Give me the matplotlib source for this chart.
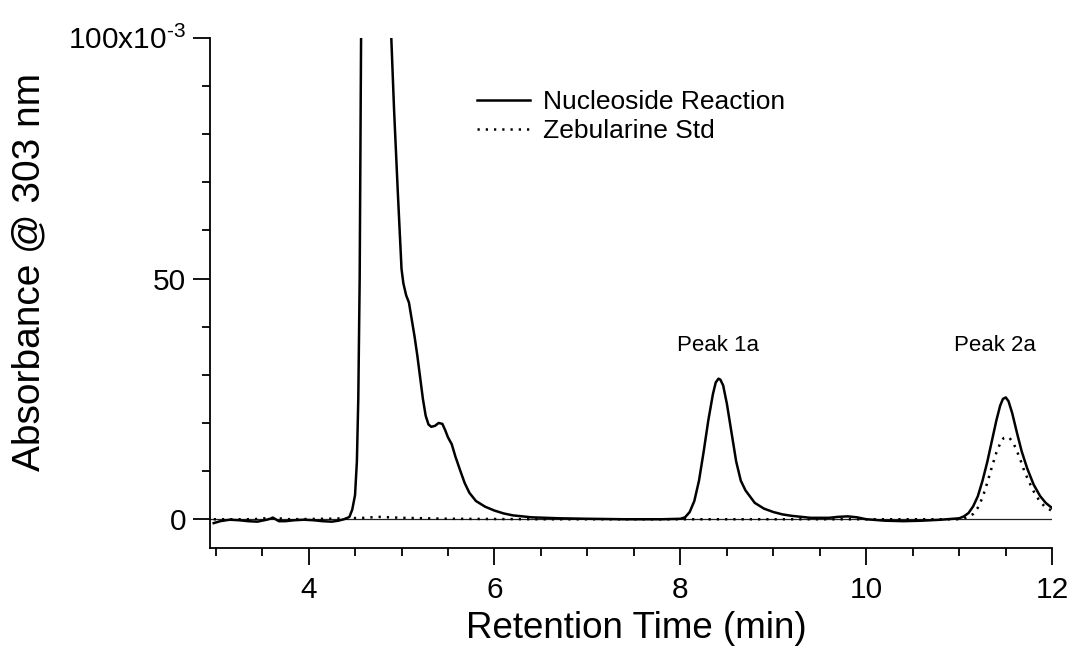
import matplotlib
matplotlib.use('Agg')
import matplotlib.pyplot as plt
from matplotlib.ticker import MultipleLocator, FixedLocator

plt.rcParams['font.family'] = ['Liberation Sans', 'DejaVu Sans']
plt.rcParams['mathtext.fontset'] = 'custom'
plt.rcParams['mathtext.rm'] = 'Liberation Sans'
plt.rcParams['mathtext.it'] = 'Liberation Sans:italic'

# Nucleoside Reaction trace (time in min, absorbance in 1e-3 units)
reaction_t = [2.98, 3.05, 3.15, 3.25, 3.35, 3.45, 3.55, 3.62, 3.68, 3.75, 3.85, 3.95,
              4.05, 4.15, 4.25, 4.32, 4.38, 4.42, 4.44, 4.47, 4.50, 4.52, 4.535, 4.55,
              4.565, 4.60, 4.65, 4.72, 4.80, 4.85, 4.88, 4.89, 4.92, 4.96, 5.00, 5.02,
              5.05, 5.08, 5.11, 5.14, 5.17, 5.20, 5.23, 5.26, 5.29, 5.32, 5.36, 5.40,
              5.44, 5.47, 5.50, 5.54, 5.58, 5.63, 5.68, 5.73, 5.80, 5.90, 6.00, 6.10,
              6.20, 6.40, 6.70, 7.00, 7.40, 7.80, 8.00, 8.05, 8.10, 8.15, 8.20, 8.25,
              8.30, 8.35, 8.38, 8.41, 8.43, 8.46, 8.50, 8.55, 8.60, 8.65, 8.70, 8.80, 8.90,
              9.00, 9.10, 9.20, 9.40, 9.60, 9.70, 9.80, 9.90, 10.00, 10.20, 10.40,
              10.60, 10.80, 11.00, 11.05, 11.10, 11.15, 11.20, 11.25, 11.30, 11.35,
              11.40, 11.44, 11.47, 11.50, 11.53, 11.57, 11.62, 11.67, 11.73, 11.80, 11.87,
              11.93, 12.00]
reaction_v = [-0.8, -0.4, -0.1, -0.2, -0.4, -0.5, -0.1, 0.3, -0.4, -0.4, -0.2, -0.1,
              -0.2, -0.4, -0.5, -0.3, 0.0, 0.3, 0.5, 2.0, 5.0, 12.0, 25.0, 50.0,
              100.0, 170.0, 260.0, 320.0, 260.0, 180.0, 115.0, 100.0, 85.0, 68.0, 52.0, 49.0,
              46.5, 45.0, 41.5, 38.0, 34.0, 29.5, 25.0, 21.5, 19.7, 19.2, 19.4, 20.0,
              19.8, 18.5, 17.0, 15.6, 13.0, 10.2, 7.5, 5.5, 3.8, 2.6, 1.8, 1.2,
              0.8, 0.4, 0.2, 0.1, 0.0, 0.0, 0.1, 0.4, 1.5, 3.8, 8.0, 14.0,
              20.5, 26.0, 28.4, 29.2, 29.0, 27.8, 24.0, 18.0, 12.0, 8.0, 6.0, 3.4, 2.2,
              1.5, 1.0, 0.7, 0.3, 0.3, 0.5, 0.6, 0.4, 0.0, -0.3, -0.4,
              -0.3, -0.1, 0.2, 0.6, 1.3, 2.7, 4.8, 8.0, 11.8, 16.2,
              20.6, 23.6, 25.0, 25.3, 24.5, 22.0, 18.0, 14.2, 10.6, 7.2, 4.8,
              3.4, 2.3]

# Zebularine standard trace
std_t = [2.98, 3.40, 3.60, 3.80, 4.20, 4.60, 4.75, 5.00, 5.50, 6.50, 8.00, 9.50,
         10.50, 11.00, 11.05, 11.10, 11.15, 11.20, 11.25, 11.30, 11.35, 11.40, 11.45,
         11.48, 11.51, 11.54, 11.58, 11.62, 11.66, 11.70, 11.75, 11.80, 11.86, 11.92, 12.00]
std_v = [0.0, 0.0, 0.3, 0.0, 0.1, 0.3, 0.5, 0.3, 0.1, 0.0, 0.0, 0.0,
         0.0, 0.0, 0.2, 0.5, 1.1, 2.4, 4.5, 7.5, 10.8, 13.9, 16.2,
         16.9, 17.1, 16.9, 15.9, 14.2, 12.2, 10.0, 7.8, 5.8, 3.9, 2.6, 1.7]

peak_labels = ['Peak 1a', 'Peak 2a']
peak_label_x = [8.40, 11.38]
peak_label_y = [36.0, 36.0]

ytick_vals = [0, 50, 100]
ytick_labels = ['0', '50', '100x10$^{\u20103}$']

fig = plt.figure(figsize=(10.77, 6.51), dpi=100)
ax = fig.add_axes([0.195, 0.158, 0.782, 0.784])

ax.axhline(0, color='#222222', lw=0.9, zorder=1)
ax.plot(reaction_t, reaction_v, color='black', lw=1.8, label='Nucleoside Reaction',
        zorder=3, solid_joinstyle='round')
ax.plot(std_t, std_v, color='black', lw=1.8, linestyle=(0, (0.9, 2.4)),
        label='Zebularine Std', zorder=2)

for lab, px, py in zip(peak_labels, peak_label_x, peak_label_y):
    ax.text(px, py, lab, fontsize=16, ha='center', va='center')

ax.set_xlim(2.94, 12.0)
ax.set_ylim(-6.0, 100.0)

ax.xaxis.set_major_locator(FixedLocator([4, 6, 8, 10, 12]))
ax.xaxis.set_minor_locator(MultipleLocator(0.5))
ax.yaxis.set_major_locator(FixedLocator(ytick_vals))
ax.set_yticklabels(ytick_labels)
ax.yaxis.set_minor_locator(MultipleLocator(10))

ax.tick_params(which='major', length=12, width=1.3, labelsize=21.5, direction='out')
ax.tick_params(which='minor', length=5.5, width=1.3, direction='out')
ax.tick_params(axis='x', which='major', pad=8)
ax.tick_params(axis='y', which='major', pad=5)

for s in ['top', 'right']:
    ax.spines[s].set_visible(False)
for s in ['left', 'bottom']:
    ax.spines[s].set_linewidth(1.3)

fig.text(29 / 1077, 1 - 272 / 651, 'Absorbance @ 303 nm', fontsize=28,
         rotation=90, ha='center', va='center')
fig.text(636 / 1077, 1 - 628 / 651, 'Retention Time (min)', fontsize=26.5,
         ha='center', va='center')

ax.legend(loc='upper left', bbox_to_anchor=(477 / 1077, 1 - 90 / 651),
          bbox_transform=fig.transFigure, frameon=False, fontsize=19,
          handlelength=2.0, handletextpad=0.5, labelspacing=0.2,
          borderpad=0, borderaxespad=0)

fig.savefig('out.png', dpi=100)
